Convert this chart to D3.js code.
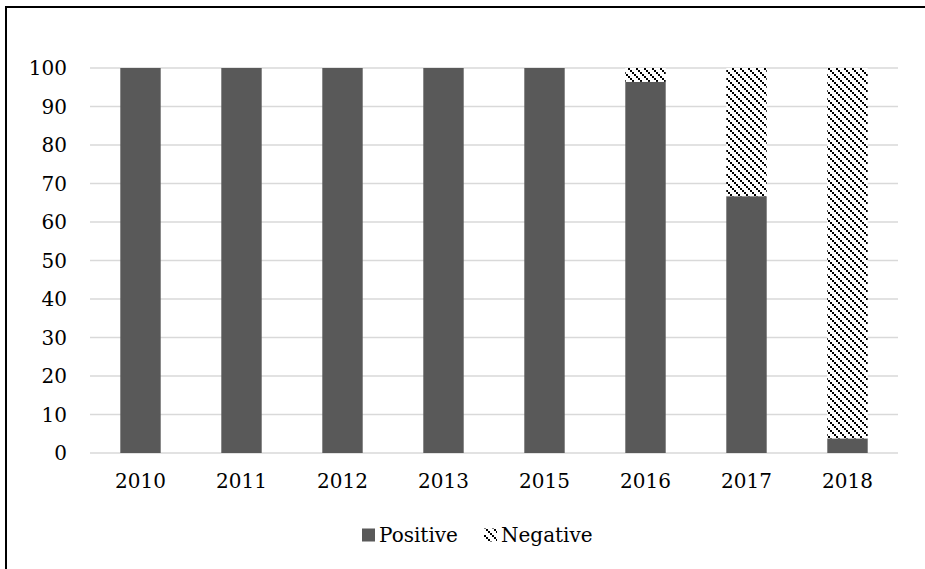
<!DOCTYPE html>
<html>
<head>
<meta charset="utf-8">
<script src="https://cdn.jsdelivr.net/npm/d3@7"></script>
<style>
  html, body { margin: 0; padding: 0; background: #fff; }
  svg { display: block; }
</style>
</head>
<body>
<div id="chart"></div>
<script>
// Data
const years = ["2010", "2011", "2012", "2013", "2015", "2016", "2017", "2018"];
const positive = [100, 100, 100, 100, 100, 96.4, 66.7, 3.8];
const negative = [0, 0, 0, 0, 0, 3.6, 33.3, 96.2];
const yTicks = [0, 10, 20, 30, 40, 50, 60, 70, 80, 90, 100];

const width = 925, height = 569;
const margin = { top: 68, right: 27, bottom: 116, left: 90 };
const font = "'DejaVu Serif', serif";
const fontSize = "20px";

const svg = d3.select("#chart").append("svg")
    .attr("width", width).attr("height", height)
    .style("font-family", font);

// Hatch pattern (dotted downward diagonal)
const defs = svg.append("defs");
const pat = defs.append("pattern")
    .attr("id", "hatch")
    .attr("patternUnits", "userSpaceOnUse")
    .attr("width", 8).attr("height", 8);
pat.append("rect").attr("width", 8).attr("height", 8).attr("fill", "#fff");
[0, 2, 4, 6].forEach(k => {
    pat.append("rect").attr("x", k).attr("y", k).attr("width", 2).attr("height", 2).attr("fill", "#000");
    pat.append("rect").attr("x", (k + 1) % 8).attr("y", k).attr("width", 1).attr("height", 1).attr("fill", "#000");
});

// Frame (only top and left edges are visible in the crop)
svg.append("path")
    .attr("d", `M6,${height}L6,7L${width},7`)
    .attr("fill", "none").attr("stroke", "#000").attr("stroke-width", 2);

const x = d3.scaleBand()
    .domain(years)
    .range([margin.left, width - margin.right])
    .paddingInner(0.6).paddingOuter(0.3);

const y = d3.scaleLinear()
    .domain([0, 100])
    .range([height - margin.bottom, margin.top]);

// Grid lines
svg.append("g")
    .selectAll("line")
    .data(yTicks)
    .join("line")
    .attr("x1", margin.left).attr("x2", width - margin.right)
    .attr("y1", d => y(d)).attr("y2", d => y(d))
    .attr("stroke", "#d9d9d9").attr("stroke-width", 1.3);

// Y axis labels
svg.append("g")
    .selectAll("text")
    .data(yTicks)
    .join("text")
    .attr("x", 67).attr("y", d => y(d))
    .attr("dy", "0.36em")
    .attr("text-anchor", "end")
    .style("font-size", fontSize)
    .attr("fill", "#000")
    .text(d => d);

// Bars
const rows = years.map((yr, i) => ({ year: yr, pos: positive[i], neg: negative[i] }));

svg.append("g")
    .selectAll("rect")
    .data(rows)
    .join("rect")
    .attr("x", d => x(d.year))
    .attr("width", x.bandwidth())
    .attr("y", d => y(d.pos))
    .attr("height", d => y(0) - y(d.pos))
    .attr("fill", "#595959");

svg.append("g")
    .selectAll("rect")
    .data(rows.filter(d => d.neg > 0))
    .join("rect")
    .attr("x", d => x(d.year))
    .attr("width", x.bandwidth())
    .attr("y", d => y(d.pos + d.neg))
    .attr("height", d => y(d.pos) - y(d.pos + d.neg))
    .attr("fill", "url(#hatch)");

// X labels
svg.append("g")
    .selectAll("text")
    .data(years)
    .join("text")
    .attr("x", d => x(d) + x.bandwidth() / 2)
    .attr("y", 481)
    .attr("dy", "0.36em")
    .attr("text-anchor", "middle")
    .style("font-size", fontSize)
    .text(d => d);

// Legend
const legend = [
    { name: "Positive", fill: "#595959", x: 362 },
    { name: "Negative", fill: "url(#hatch)", x: 484 }
];
const lg = svg.append("g").selectAll("g")
    .data(legend)
    .join("g")
    .attr("transform", d => `translate(${d.x},535)`);
lg.append("rect")
    .attr("x", 0).attr("y", -6.5).attr("width", 13).attr("height", 13)
    .attr("fill", d => d.fill);
lg.append("text")
    .attr("x", 17).attr("y", 0).attr("dy", "0.36em")
    .style("font-size", fontSize)
    .text(d => d.name);
</script>
</body>
</html>
